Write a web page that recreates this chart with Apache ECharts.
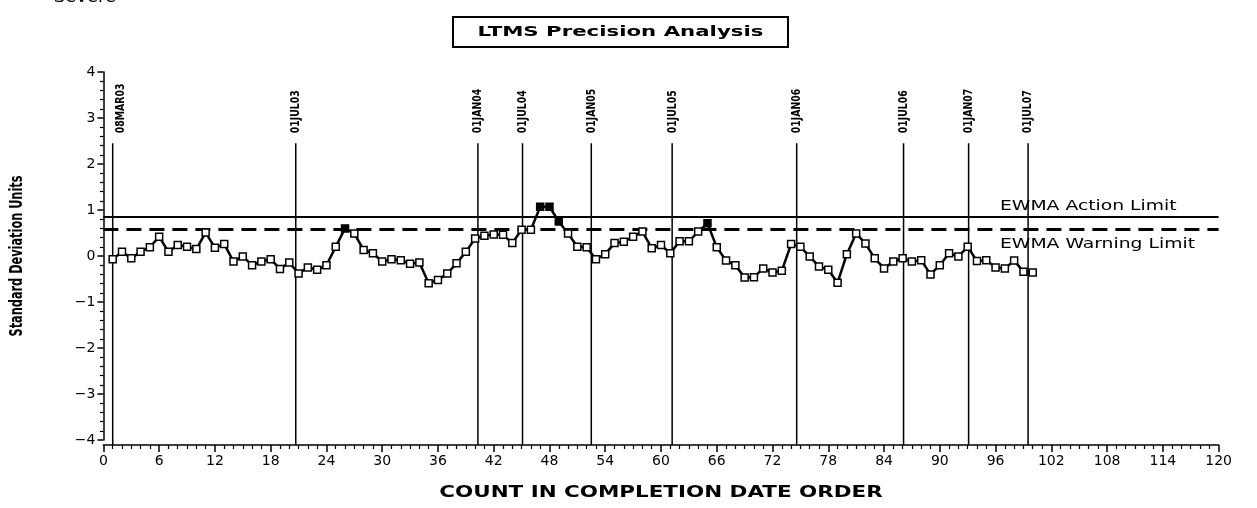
<!DOCTYPE html>
<html><head><meta charset="utf-8">
<script src="https://cdn.jsdelivr.net/npm/echarts@6/dist/echarts.min.js"></script>
<style>html,body{margin:0;padding:0;background:#fff}#c{width:1257px;height:508px}</style>
</head><body><div id="c"></div>
<script>
// EWMA values in standard deviation units, in completion date order (count 1..100)
const ewmaValues = [
  -0.07, 0.09, -0.05, 0.09, 0.19, 0.42, 0.09, 0.24, 0.20, 0.15,
   0.51, 0.18, 0.26, -0.12, -0.01, -0.20, -0.12, -0.07, -0.28, -0.14,
  -0.38, -0.25, -0.30, -0.20, 0.20, 0.60, 0.49, 0.13, 0.06, -0.12,
  -0.07, -0.09, -0.17, -0.14, -0.59, -0.52, -0.38, -0.16, 0.09, 0.38,
   0.44, 0.47, 0.46, 0.28, 0.57, 0.57, 1.07, 1.07, 0.75, 0.49,
   0.20, 0.19, -0.07, 0.04, 0.28, 0.31, 0.42, 0.53, 0.17, 0.24,
   0.06, 0.32, 0.32, 0.53, 0.71, 0.19, -0.10, -0.20, -0.47, -0.46,
  -0.27, -0.36, -0.32, 0.26, 0.20, -0.01, -0.23, -0.30, -0.58, 0.04,
   0.49, 0.27, -0.05, -0.27, -0.12, -0.05, -0.12, -0.09, -0.40, -0.20,
   0.06, -0.01, 0.20, -0.11, -0.09, -0.25, -0.27, -0.10, -0.34, -0.36
];
const dateLabels = ['08MAR03','01JUL03','01JAN04','01JUL04','01JAN05','01JUL05','01JAN06','01JUL06','01JAN07','01JUL07'];
const datePositions = [1, 20.7, 40.3, 45.1, 52.5, 61.2, 74.6, 86.1, 93.1, 99.5];
const actionLimit = 0.86;
const warningLimit = 0.58;
const xTicks = {min: 0, max: 120, interval: 6};
const yTicks = {min: -4, max: 4, interval: 1};

const dateLineTop = 2.45;

const chart = echarts.init(document.getElementById('c'), null, {renderer: 'canvas'});
const seriesData = ewmaValues.map((v, i) => ({
  value: [i + 1, v],
  itemStyle: {color: v > warningLimit ? '#000' : '#fff'}
}));

const wide = '"DejaVu Sans", sans-serif';
const narrow = '"Liberation Sans Narrow", "DejaVu Sans Condensed", sans-serif';

chart.setOption({
  animation: false,
  backgroundColor: '#fff',
  grid: {left: 103.4, right: 38.4, top: 72, bottom: 68, containLabel: false},
  xAxis: {
    type: 'value', min: xTicks.min, max: xTicks.max, interval: xTicks.interval,
    offset: 5,
    axisLine: {show: true, onZero: false, lineStyle: {color: '#000', width: 1.5}},
    axisTick: {show: true, length: 7, lineStyle: {color: '#000', width: 1.5}},
    minorTick: {show: true, splitNumber: 6, length: 4, lineStyle: {color: '#000', width: 1.2}},
    axisLabel: {color: '#000', fontFamily: wide, fontSize: 14, margin: 9},
    splitLine: {show: false}
  },
  yAxis: {
    type: 'value', min: yTicks.min, max: yTicks.max, interval: yTicks.interval,
    offset: 4,
    axisLine: {show: true, lineStyle: {color: '#000', width: 1.5}},
    axisTick: {show: true, length: 6, lineStyle: {color: '#000', width: 1.5}},
    minorTick: {show: true, splitNumber: 5, length: 3.5, lineStyle: {color: '#000', width: 1.2}},
    axisLabel: {color: '#000', fontFamily: wide, fontSize: 14, margin: 4,
      formatter: v => v < 0 ? '\u2212' + Math.abs(v) : String(v)},
    splitLine: {show: false}
  },
  series: [
    {
      type: 'custom',
      z: 2,
      clip: false,
      silent: true,
      data: datePositions.map(p => [p, dateLineTop]),
      renderItem: (params, api) => {
        const idx = params.dataIndex;
        const top = api.coord([api.value(0), api.value(1)]);
        const bottom = api.coord([api.value(0), yTicks.min]);
        const dx = idx === 0 ? 8 : 0;
        return {
          type: 'group',
          children: [
            {type: 'line', shape: {x1: top[0], y1: top[1], x2: bottom[0], y2: bottom[1] + 5},
              style: {stroke: '#000', lineWidth: 1.5}},
            {type: 'text', x: top[0] + dx, y: top[1] - 10, rotation: Math.PI / 2, scaleX: 0.8,
              style: {text: dateLabels[idx], font: 'bold 13px ' + narrow, fill: '#000',
                align: 'left', verticalAlign: 'middle'}}
          ]
        };
      }
    },
    {
      type: 'line',
      data: seriesData,
      symbol: 'rect', symbolSize: 7,
      lineStyle: {color: '#000', width: 2.5},
      itemStyle: {borderColor: '#000', borderWidth: 1.5},
      z: 5,
      markLine: {
        silent: true, symbol: 'none', animation: false,
        label: {show: false},
        data: [
          {yAxis: actionLimit, lineStyle: {color: '#000', width: 2, type: 'solid'}},
          {yAxis: warningLimit, lineStyle: {color: '#000', width: 3, type: [15, 8]}}
        ]
      }
    }
  ],
  graphic: [
    {type: 'text', x: 85, y: -2, scaleX: 1.2,
      style: {text: 'Severe', font: '15px ' + wide, fill: '#000', textAlign: 'center', textVerticalAlign: 'middle'}},
    {type: 'rect', shape: {x: 453, y: 17, width: 335, height: 30},
      style: {fill: 'none', stroke: '#000', lineWidth: 2}},
    {type: 'text', x: 620.5, y: 32, scaleX: 1.52,
      style: {text: 'LTMS Precision Analysis', font: 'bold 14px ' + wide, fill: '#000', textAlign: 'center', textVerticalAlign: 'middle'}},
    {type: 'text', x: 1000, y: 206, scaleX: 1.34,
      style: {text: 'EWMA Action Limit', font: '14px ' + wide, fill: '#000', textAlign: 'left', textVerticalAlign: 'middle'}},
    {type: 'text', x: 1000, y: 244, scaleX: 1.34,
      style: {text: 'EWMA Warning Limit', font: '14px ' + wide, fill: '#000', textAlign: 'left', textVerticalAlign: 'middle'}},
    {type: 'text', x: 661, y: 493, scaleX: 1.34,
      style: {text: 'COUNT IN COMPLETION DATE ORDER', font: 'bold 16px ' + wide, fill: '#000', textAlign: 'center', textVerticalAlign: 'middle'}},
    {type: 'text', x: 18, y: 256, rotation: Math.PI / 2, scaleX: 0.74,
      style: {text: 'Standard Deviation Units', font: 'bold 17px ' + narrow, fill: '#000', textAlign: 'center', textVerticalAlign: 'middle'}}
  ]
});
</script>
</body></html>
